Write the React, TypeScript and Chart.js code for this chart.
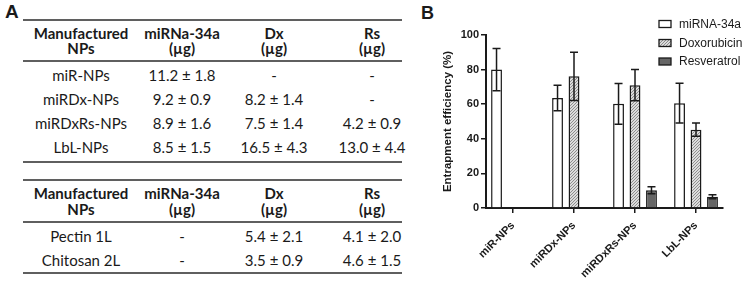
import React, { useEffect, useRef } from "react";
import { Chart, registerables } from "chart.js";
Chart.register(...registerables);

// ---------- DATA ----------
const categories = ["miR-NPs", "miRDx-NPs", "miRDxRs-NPs", "LbL-NPs"];
const seriesNames = ["miRNA-34a", "Doxorubicin", "Resveratrol"];
const mirnaMean = [80, 63.6, 60.2, 60.6];
const mirnaSd = [12.2, 7.4, 11.8, 11.5];
const doxMean = [null, 76.1, 71.0, 45.3];
const doxSd = [null, 13.9, 9.0, 3.8];
const resMean = [null, null, 10.3, 6.5];
const resSd = [null, null, 2.0, 1.1];
const yTicks = [0, 20, 40, 60, 80, 100];
const yTitle = "Entrapment efficiency (%)";

const tableHeader = [
  ["Manufactured", "NPs"],
  ["miRNa-34a", "(µg)"],
  ["Dx", "(µg)"],
  ["Rs", "(µg)"],
];
const table1Rows = [
  ["miR-NPs", "11.2 ± 1.8", "-", "-"],
  ["miRDx-NPs", "9.2 ± 0.9", "8.2 ± 1.4", "-"],
  ["miRDxRs-NPs", "8.9 ± 1.6", "7.5 ± 1.4", "4.2 ± 0.9"],
  ["LbL-NPs", "8.5 ± 1.5", "16.5 ± 4.3", "13.0 ± 4.4"],
];
const table2Rows = [
  ["Pectin 1L", "-", "5.4 ± 2.1", "4.1 ± 2.0"],
  ["Chitosan 2L", "-", "3.5 ± 0.9", "4.6 ± 1.5"],
];

// ---------- STYLE / LAYOUT ----------
const ARIAL = "'Liberation Sans', Arial, sans-serif";
const TABLE_FONT = "Lato, 'Open Sans', sans-serif";
const INK = "#1a1a1a";
const colCenters = [81, 182, 274, 372];
const tableLeft = 23;
const tableRight = 402;

type TableLayout = {
  top: number;
  headerYs: number[];
  sep: number;
  rowYs: number[];
  bottom: number;
};
const layout1: TableLayout = { top: 20, headerYs: [33, 48], sep: 61, rowYs: [75, 99, 123, 147], bottom: 162 };
const layout2: TableLayout = { top: 180, headerYs: [193, 209], sep: 222, rowYs: [236, 260], bottom: 273 };

function HLine({ y }: { y: number }) {
  return (
    <div
      style={{
        position: "absolute",
        left: tableLeft,
        top: y - 1,
        width: tableRight - tableLeft,
        height: 2,
        background: "#5f5f5f",
      }}
    />
  );
}

function Cell({ x, y, text, bold }: { x: number; y: number; text: string; bold?: boolean }) {
  return (
    <div
      style={{
        position: "absolute",
        left: x - 70,
        top: y - 10,
        width: 140,
        height: 20,
        lineHeight: "20px",
        textAlign: "center",
        fontFamily: TABLE_FONT,
        fontSize: 15,
        fontWeight: bold ? 700 : 400,
        color: INK,
        whiteSpace: "nowrap",
      }}
    >
      {text}
    </div>
  );
}

function DataTable({ rows, lay }: { rows: string[][]; lay: TableLayout }) {
  return (
    <>
      <HLine y={lay.top} />
      {tableHeader.map((h, ci) =>
        h.map((t, li) => <Cell key={`h${ci}-${li}`} x={colCenters[ci]} y={lay.headerYs[li]} text={t} bold />)
      )}
      <HLine y={lay.sep} />
      {rows.map((r, ri) =>
        r.map((t, ci) => <Cell key={`r${ri}-${ci}`} x={colCenters[ci]} y={lay.rowYs[ri]} text={t} />)
      )}
      <HLine y={lay.bottom} />
    </>
  );
}

function makeHatch(ctx: CanvasRenderingContext2D): CanvasPattern | string {
  const c = document.createElement("canvas");
  c.width = 3;
  c.height = 3;
  const g = c.getContext("2d");
  if (!g) return "#bbb";
  g.fillStyle = "#dcdcdc";
  g.fillRect(0, 0, 3, 3);
  g.strokeStyle = "#858585";
  g.lineWidth = 0.9;
  g.beginPath();
  g.moveTo(0, 3);
  g.lineTo(3, 0);
  g.moveTo(-1, 1);
  g.lineTo(1, -1);
  g.moveTo(2, 4);
  g.lineTo(4, 2);
  g.stroke();
  return ctx.createPattern(c, "repeat") || "#bbb";
}

const errorBarPlugin = {
  id: "errorBars",
  afterDatasetsDraw(chart: any) {
    const ctx = chart.ctx;
    const ys = chart.scales.y;
    chart.data.datasets.forEach((ds: any, di: number) => {
      const meta = chart.getDatasetMeta(di);
      meta.data.forEach((bar: any, i: number) => {
        const v = ds.data[i];
        const e = ds.errors ? ds.errors[i] : null;
        if (v == null || e == null) return;
        const x = bar.x;
        const yh = ys.getPixelForValue(v + e);
        const yl = ys.getPixelForValue(v - e);
        ctx.save();
        ctx.strokeStyle = INK;
        ctx.lineWidth = 1.5;
        ctx.beginPath();
        ctx.moveTo(x, yl);
        ctx.lineTo(x, yh);
        ctx.moveTo(x - 4, yh);
        ctx.lineTo(x + 4, yh);
        ctx.moveTo(x - 4, yl);
        ctx.lineTo(x + 4, yl);
        ctx.stroke();
        ctx.restore();
      });
    });
  },
};

const legendPlugin = {
  id: "customLegend",
  afterDraw(chart: any) {
    const ctx = chart.ctx;
    const boxX = 229;
    const boxW = 12;
    const boxH = 7;
    const rowYs = [24, 43, 61.5];
    chart.data.datasets.forEach((ds: any, i: number) => {
      const cy = rowYs[i];
      ctx.save();
      ctx.fillStyle = ds.backgroundColor;
      ctx.fillRect(boxX, cy - boxH / 2, boxW, boxH);
      ctx.strokeStyle = INK;
      ctx.lineWidth = 1.3;
      ctx.strokeRect(boxX, cy - boxH / 2, boxW, boxH);
      ctx.fillStyle = INK;
      ctx.font = `12px ${ARIAL}`;
      ctx.textBaseline = "middle";
      ctx.textAlign = "left";
      ctx.fillText(ds.label, boxX + 20, cy + 0.5);
      ctx.restore();
    });
  },
};

function BarChart() {
  const ref = useRef<HTMLCanvasElement | null>(null);
  useEffect(() => {
    const canvas = ref.current;
    if (!canvas) return;
    const ctx = canvas.getContext("2d");
    if (!ctx) return;
    const hatch = makeHatch(ctx);
    const chart = new Chart(canvas, {
      type: "bar",
      data: {
        labels: categories,
        datasets: [
          { label: seriesNames[0], data: mirnaMean, errors: mirnaSd, backgroundColor: "#ffffff" } as any,
          { label: seriesNames[1], data: doxMean, errors: doxSd, backgroundColor: hatch } as any,
          { label: seriesNames[2], data: resMean, errors: resSd, backgroundColor: "#666666" } as any,
        ].map((d) => ({
          ...d,
          borderColor: INK,
          borderWidth: 1.5,
          categoryPercentage: 0.81,
          barPercentage: 0.66,
        })),
      },
      options: {
        animation: false,
        responsive: false,
        maintainAspectRatio: false,
        layout: { padding: { top: 35, right: 24, bottom: 0, left: 0 } },
        plugins: { legend: { display: false }, tooltip: { enabled: false } },
        scales: {
          x: {
            type: "category",
            offset: true,
            grid: {
              display: true,
              drawOnChartArea: false,
              drawTicks: true,
              tickLength: 5,
              color: INK,
              lineWidth: 1.5,
              offset: false,
            },
            border: { display: true, color: INK, width: 2 },
            ticks: {
              maxRotation: 45,
              minRotation: 45,
              autoSkip: false,
              padding: 6,
              color: INK,
              font: { family: ARIAL, size: 11, weight: "bold" },
            },
            afterBuildTicks: (s: any) => {
              s._startValue = -0.4426;
              s._valueRange = 3.885;
            },
            afterFit: (s: any) => {
              s.height = 75;
              s.paddingLeft = 0;
              s.paddingRight = 0;
            },
          },
          y: {
            min: 0,
            max: 100,
            afterBuildTicks: (s: any) => {
              s.ticks = yTicks.map((v) => ({ value: v }));
            },
            grid: {
              display: true,
              drawOnChartArea: false,
              drawTicks: true,
              tickLength: 5,
              color: INK,
              lineWidth: 1.5,
            },
            border: { display: true, color: INK, width: 2 },
            ticks: {
              padding: 2,
              color: INK,
              font: { family: ARIAL, size: 11, weight: "bold" },
            },
            title: {
              display: true,
              text: yTitle,
              color: INK,
              font: { family: ARIAL, size: 11.5, weight: "bold" },
              padding: { top: 11, bottom: 0 },
            },
            afterFit: (s: any) => {
              s.width = 56;
              s.paddingTop = 0;
              s.paddingBottom = 0;
            },
          },
        },
      },
      plugins: [errorBarPlugin, legendPlugin],
    } as any);
    return () => chart.destroy();
  }, []);
  return (
    <canvas
      ref={ref}
      width={317}
      height={283}
      style={{ position: "absolute", left: 430, top: 0, width: 317, height: 283 }}
    />
  );
}

export default function App() {
  useEffect(() => {
    document.body.style.margin = "0";
  }, []);
  return (
    <div style={{ position: "relative", width: 747, height: 283, background: "#fff", overflow: "hidden" }}>
      <div
        style={{
          position: "absolute",
          left: 5,
          top: 1,
          fontFamily: ARIAL,
          fontWeight: 700,
          fontSize: 19,
          color: INK,
        }}
      >
        A
      </div>
      <div
        style={{
          position: "absolute",
          left: 421,
          top: 3,
          fontFamily: ARIAL,
          fontWeight: 700,
          fontSize: 18,
          color: INK,
        }}
      >
        B
      </div>
      <DataTable rows={table1Rows} lay={layout1} />
      <DataTable rows={table2Rows} lay={layout2} />
      <BarChart />
    </div>
  );
}
